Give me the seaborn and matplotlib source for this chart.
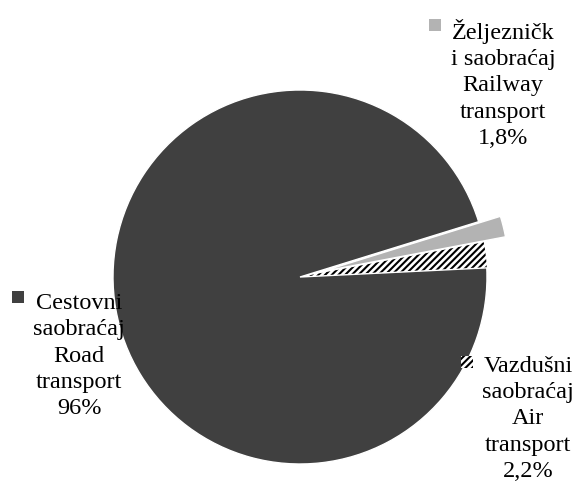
import matplotlib
matplotlib.use("Agg")
import matplotlib.pyplot as plt
from matplotlib.patches import Rectangle
import seaborn as sns

# data (order drawn counter-clockwise from the right)
names = ["Vazdušni\nsaobraćaj\nAir\ntransport", "Željezničk\ni saobraćaj\nRailway\ntransport", "Cestovni\nsaobraćaj\nRoad\ntransport"]
shares = [2.2, 1.8, 96.0]
pct_labels = ["2,2%", "1,8%", "96%"]

sns.set_style("white")
plt.rcParams["font.family"] = ["Liberation Serif", "DejaVu Serif"]
plt.rcParams["hatch.linewidth"] = 1.5

W, H = 579, 483
fig = plt.figure(figsize=(W / 100, H / 100), dpi=100)
ax = fig.add_axes([0, 0, 1, 1])

cx, cy, r = 300, 277, 187
fills = ["white", "#b3b3b3", "#404040"]
wedges, _ = ax.pie(shares, startangle=2.8, counterclock=True,
                   explode=[0, 0.12, 0], colors=fills,
                   wedgeprops=dict(edgecolor="white", linewidth=1))
wedges[0].set_hatch("/////")
wedges[0].set_edgecolor("black")
wedges[0].set_linewidth(0)

ax.set_xlim((0 - cx) / r, (W - cx) / r)
ax.set_ylim((cy - H) / r, cy / r)
ax.set_aspect("equal")
ax.axis("off")

# label blocks: text centre (px), legend key centre (px)
spots = [((528, 419), (467, 362)), ((503, 84), (435, 25)), ((79, 356), (18, 297))]
for i, ((tx, ty), (kx, ky)) in enumerate(spots):
    ax.text(tx / W, 1 - ty / H, names[i] + "\n" + pct_labels[i], transform=ax.transAxes,
            ha="center", va="center", multialignment="center",
            fontsize=17.5, linespacing=1.33, color="black")
    s = 12
    key = Rectangle(((kx - s / 2) / W, 1 - (ky + s / 2) / H), s / W, s / H,
                    transform=ax.transAxes, facecolor=fills[i],
                    edgecolor="black" if i == 0 else "none", linewidth=0)
    if i == 0:
        key.set_hatch("/////")
    ax.add_patch(key)

fig.savefig("out.png", dpi=100)
